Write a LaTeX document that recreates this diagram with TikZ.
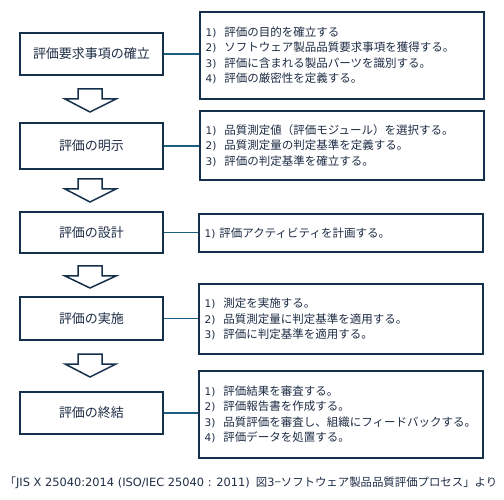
\documentclass[tikz,border=0pt]{standalone}
\usepackage{fontspec}
\setmainfont{Noto Sans CJK JP}
\newfontfamily\lat{DejaVu Sans}
\definecolor{navy}{HTML}{14304A}
\definecolor{conn}{HTML}{1B5E80}
\definecolor{txt}{HTML}{1E2D45}
\newcommand{\itm}[1]{{\lat\fontsize{10.5}{15.5}\selectfont #1)}\hspace{8pt}}
\begin{document}
\begin{tikzpicture}[x=1pt,y=1pt,
  lbox/.style={draw=navy,line width=2pt,fill=white,minimum width=143pt,inner sep=0pt,text=txt,font=\fontsize{13}{15}\selectfont},
  rbox/.style={draw=navy,line width=2pt,fill=white,minimum width=284pt,inner sep=0pt,text=txt,anchor=north west},
  rtext/.style={text=txt,font=\fontsize{11.5}{15.5}\selectfont,align=left,anchor=west,inner sep=0pt},
  conline/.style={draw=conn,line width=1.8pt},
  blockarrow/.style={draw=navy,line width=1.5pt,fill=white,line join=miter}]
\useasboundingbox (0,0) rectangle (504,499);
% left boxes (img y flipped: 499 - y)
\node[lbox,minimum height=42pt] (l1) at (91.5,445) {評価要求事項の確立};
\node[lbox,minimum height=46pt] (l2) at (91.5,353) {評価の明示};
\node[lbox,minimum height=41pt] (l3) at (91.5,266.5) {評価の設計};
\node[lbox,minimum height=43pt] (l4) at (91.5,180.5) {評価の実施};
\node[lbox,minimum height=42pt] (l5) at (91.5,86) {評価の終結};
% right boxes
\node[rbox,minimum height=87pt] (r1) at (198.5,488) {};
\node[rbox,minimum height=69pt] (r2) at (198.5,389) {};
\node[rbox,minimum height=38pt] (r3) at (197.5,286) {};
\node[rbox,minimum height=70pt] (r4) at (197.5,216) {};
\node[rbox,minimum height=87pt] (r5) at (197.5,129) {};
% right texts
\node[rtext] (t1) at ([xshift=7pt]r1.west) {\itm{1}評価の目的を確立する\\\itm{2}ソフトウェア製品品質要求事項を獲得する。\\\itm{3}評価に含まれる製品パーツを識別する。\\\itm{4}評価の厳密性を定義する。};
\node[rtext] (t2) at ([xshift=7pt]r2.west) {\itm{1}品質測定値（評価モジュール）を選択する。\\\itm{2}品質測定量の判定基準を定義する。\\\itm{3}評価の判定基準を確立する。};
\node[rtext] (t3) at ([xshift=7pt]r3.west) {{\lat\fontsize{10.5}{15.5}\selectfont 1)}\hspace{4pt}評価アクティビティを計画する。};
\node[rtext] (t4) at ([xshift=7pt]r4.west) {\itm{1}測定を実施する。\\\itm{2}品質測定量に判定基準を適用する。\\\itm{3}評価に判定基準を適用する。};
\node[rtext] (t5) at ([xshift=7pt]r5.west) {\itm{1}評価結果を審査する。\\\itm{2}評価報告書を作成する。\\\itm{3}品質評価を審査し、組織にフィードバックする。\\\itm{4}評価データを処置する。};
% connectors
\foreach \i in {1,...,5} {
  \draw[conline] (l\i.east) -- (l\i.east -| r\i.west);
}
% block arrows: top, shoulder, tip (image y)
\foreach \top/\sh/\tip [count=\k] in {89/99/112, 179/189/202, 266/276/288, 354/364/377} {
  \coordinate (a\k) at (90,499-\tip);
  \draw[blockarrow] (78,499-\top) -- (78,499-\sh) -- (65,499-\sh) -- (a\k) -- (116,499-\sh) -- (102,499-\sh) -- (102,499-\top) -- cycle;
}
% caption
\node[text=txt,font=\fontsize{11.4}{12}\selectfont,inner sep=0pt] (cap) at (251,16) {「{\lat JIS X 25040:2014 (ISO/IEC 25040 : 2011)}\hspace{6pt}図{\lat 3}−ソフトウェア製品品質評価プロセス」より};
\end{tikzpicture}
\end{document}
